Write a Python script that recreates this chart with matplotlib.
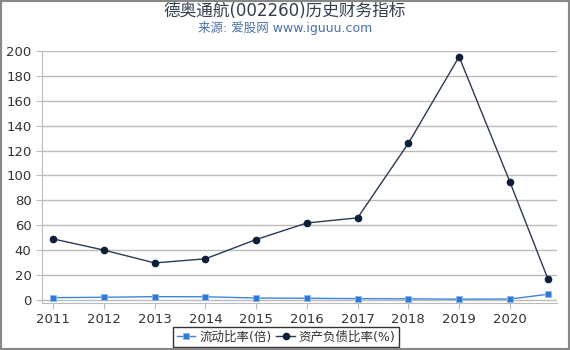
import matplotlib
matplotlib.use("Agg")
import matplotlib.pyplot as plt
from matplotlib.patches import Rectangle

plt.rcParams['font.family'] = ['DejaVu Sans', 'Noto Sans CJK SC']

years = [2011, 2012, 2013, 2014, 2015, 2016, 2017, 2018, 2019, 2020, 2020.75]
tick_years = [2011, 2012, 2013, 2014, 2015, 2016, 2017, 2018, 2019, 2020]
current_ratio = [1.8, 2.1, 2.6, 2.5, 1.5, 1.3, 1.0, 0.8, 0.6, 0.7, 4.5]
debt_ratio = [49, 40, 29.7, 33, 48.5, 61.8, 65.9, 125.8, 195.4, 95, 16.9]
yticks = [0, 20, 40, 60, 80, 100, 120, 140, 160, 180, 200]

fig = plt.figure(figsize=(5.7, 3.5), dpi=100)
ax = fig.add_axes([42/570, 1-303/350, (557-42)/570, (303-51)/350])

ax.plot(years, current_ratio, color='#3d86dc', lw=1.0, marker='s', ms=4.5,
        mfc='#2f7ad6', mec='#8db8ec', mew=0.6, label='流动比率(倍)', clip_on=False, zorder=3)
ax.plot(years, debt_ratio, color='#2a3a55', lw=1.0, marker='o', ms=4.5,
        mfc='#0f1f3a', mec='#0f1f3a', label='资产负债比率(%)', clip_on=False, zorder=4)

ax.set_xlim(2010.78, 2020.93)
ax.set_ylim(-2.5, 200)
ax.set_yticks(yticks)
ax.set_xticks(tick_years)
ax.set_xticklabels([str(y) for y in tick_years])
ax.grid(axis='y', color='#bbbbbb', lw=1)
ax.set_axisbelow(True)
for s in ['top', 'right']:
    ax.spines[s].set_visible(False)
for s in ['left', 'bottom']:
    ax.spines[s].set_color('#bbbbbb')
ax.tick_params(axis='both', colors='#bbbbbb', labelcolor='#333333', labelsize=9.5, length=4)

fig.text(0.5, 1-11/350, '德奥通航(002260)历史财务指标', ha='center', va='center',
         fontsize=12, color='#333d50')
fig.text(0.5, 1-28/350, '来源: 爱股网 www.iguuu.com', ha='center', va='center',
         fontsize=9, color='#4a70a8')

leg = fig.legend(loc='center', bbox_to_anchor=(286/570, 1-337/350), ncol=2,
                 frameon=True, fontsize=9, handlelength=1.5, handletextpad=0.3,
                 columnspacing=0.4, borderpad=0.25, fancybox=False)
leg.get_frame().set_edgecolor('black')
leg.get_frame().set_linewidth(1)
for t in leg.get_texts():
    t.set_color('#333333')

fig.patches.append(Rectangle((0, 0), 1, 1, transform=fig.transFigure, fill=False,
                             edgecolor='#888888', lw=3, zorder=10))

fig.savefig('out.png', dpi=100)
